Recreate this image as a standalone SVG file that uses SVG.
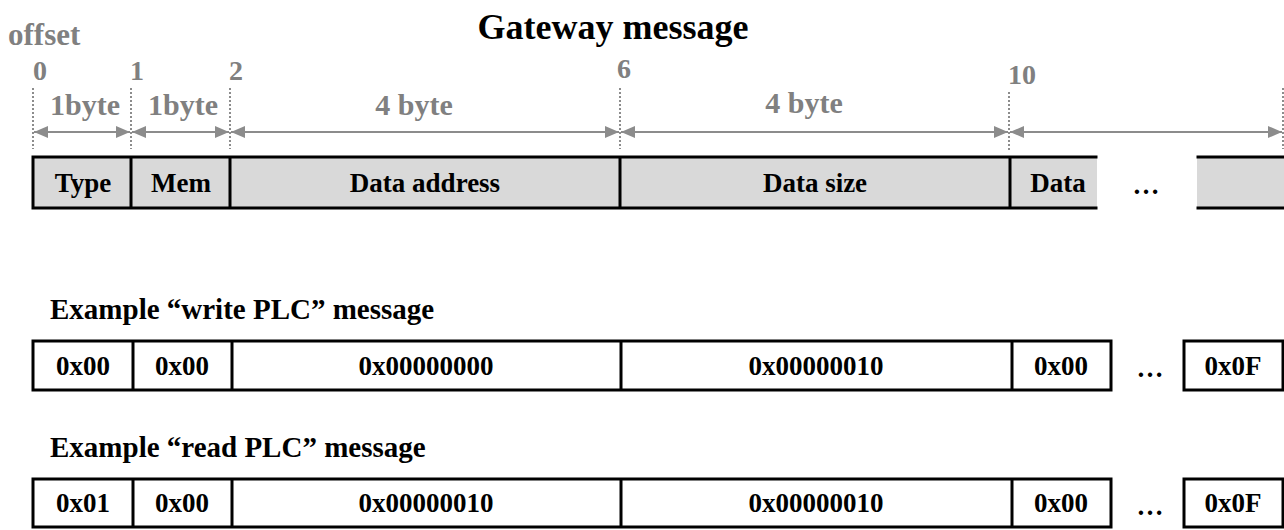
<svg xmlns="http://www.w3.org/2000/svg" width="1284" height="530" viewBox="0 0 1284 530">
  <style>
    .gray { font-family: "Liberation Serif", "Times New Roman", serif; font-weight: bold; fill: #808080; font-size: 28px; }
    .big { font-size: 31px; }
    .mid { font-size: 30px; }
    .title { font-family: "Liberation Serif", "Times New Roman", serif; font-weight: bold; fill: #000; font-size: 36px; }
    .sub { font-family: "Liberation Serif", "Times New Roman", serif; font-weight: bold; fill: #000; font-size: 29px; }
    .lbl { font-family: "Liberation Serif", "Times New Roman", serif; font-weight: bold; fill: #000; font-size: 27px; text-anchor: middle; }
    .guide { stroke: #8c8c8c; stroke-width: 2; stroke-dasharray: 2 2; fill: none; }
    .dim { stroke: #8c8c8c; stroke-width: 2; fill: none; marker-start: url(#ah); marker-end: url(#ah); }
    .cellG { fill: #d9d9d9; stroke: none; }
    .cellW { fill: #ffffff; stroke: none; }
    .edge { stroke: #000; stroke-width: 3; fill: none; stroke-linecap: square; }
  </style>
  <defs>
    <marker id="ah" viewBox="0 0 14 12" refX="14" refY="6" markerWidth="14" markerHeight="12" markerUnits="userSpaceOnUse" orient="auto-start-reverse">
      <path d="M0,0 L14,6 L0,12 z" fill="#8c8c8c"/>
    </marker>
  </defs>
  <rect width="1284" height="530" fill="#ffffff"/>

  <text class="title" x="613" y="39" text-anchor="middle">Gateway message</text>
  <text class="gray big" x="8" y="45">offset</text>

  <g id="offsets">
    <text class="gray" x="33" y="80">0</text>
    <text class="gray" x="130" y="80">1</text>
    <text class="gray" x="229" y="80">2</text>
    <text class="gray" x="617" y="78">6</text>
    <text class="gray" x="1008" y="84">10</text>
  </g>

  <g id="guides">
    <line class="guide" x1="33" y1="88" x2="33" y2="149"/>
    <line class="guide" x1="131" y1="88" x2="131" y2="149"/>
    <line class="guide" x1="230" y1="88" x2="230" y2="149"/>
    <line class="guide" x1="620" y1="88" x2="620" y2="149"/>
    <line class="guide" x1="1009" y1="92" x2="1009" y2="152"/>
    <line class="guide" x1="1283" y1="88" x2="1283" y2="149"/>
  </g>

  <g id="connectors">
    <line class="dim" x1="34" y1="132" x2="130" y2="132"/>
    <line class="dim" x1="132" y1="132" x2="229" y2="132"/>
    <line class="dim" x1="231" y1="132" x2="619" y2="132"/>
    <line class="dim" x1="621" y1="132" x2="1008" y2="132"/>
    <line class="dim" x1="1010" y1="132" x2="1282" y2="132"/>
  </g>

  <g id="sizes">
    <text class="gray mid" x="85" y="115" text-anchor="middle">1byte</text>
    <text class="gray mid" x="183" y="115" text-anchor="middle">1byte</text>
    <text class="gray mid" x="414" y="115" text-anchor="middle">4 byte</text>
    <text class="gray mid" x="804" y="113" text-anchor="middle">4 byte</text>
  </g>

  <!-- Header row -->
  <g id="header-row">
    <rect class="cellG" x="33" y="157" width="1064" height="51"/>
    <rect class="cellG" x="1197" y="157" width="87" height="51"/>
    <path class="edge" d="M33,157 H1096 M33,208 H1096 M33,157 V208 M131,157 V208 M230,157 V208 M620,157 V208 M1010,157 V208"/>
    <path class="edge" d="M1198,157 H1290 M1198,208 H1290" stroke-linecap="butt"/>
    <text class="lbl" x="83" y="192">Type</text>
    <text class="lbl" x="181" y="192">Mem</text>
    <text class="lbl" x="425" y="192">Data address</text>
    <text class="lbl" x="815" y="192">Data size</text>
    <text class="lbl" x="1058" y="192">Data</text>
    <text class="lbl" x="1146" y="194">…</text>
  </g>

  <!-- Write example -->
  <text class="sub" x="50" y="319">Example “write PLC” message</text>
  <g id="write-row">
    <rect class="cellW" x="33" y="341" width="1078" height="49"/>
    <path class="edge" d="M33,341 H1111 V390 H33 Z M133,341 V390 M232,341 V390 M621,341 V390 M1012,341 V390"/>
    <rect class="edge" x="1184" y="341" width="99" height="49" fill="#fff"/>
    <text class="lbl" x="83" y="375">0x00</text>
    <text class="lbl" x="182" y="375">0x00</text>
    <text class="lbl" x="426" y="375">0x00000000</text>
    <text class="lbl" x="816" y="375">0x00000010</text>
    <text class="lbl" x="1061" y="375">0x00</text>
    <text class="lbl" x="1150" y="377">…</text>
    <text class="lbl" x="1233" y="375">0x0F</text>
  </g>

  <!-- Read example -->
  <text class="sub" x="50" y="457">Example “read PLC” message</text>
  <g id="read-row">
    <rect class="cellW" x="33" y="479" width="1078" height="49"/>
    <path class="edge" d="M33,479 H1111 V527 H33 Z M133,479 V527 M232,479 V527 M621,479 V527 M1012,479 V527"/>
    <rect class="edge" x="1184" y="479" width="99" height="48" fill="#fff"/>
    <text class="lbl" x="83" y="512">0x01</text>
    <text class="lbl" x="182" y="512">0x00</text>
    <text class="lbl" x="426" y="512">0x00000010</text>
    <text class="lbl" x="816" y="512">0x00000010</text>
    <text class="lbl" x="1061" y="512">0x00</text>
    <text class="lbl" x="1150" y="515">…</text>
    <text class="lbl" x="1233" y="512">0x0F</text>
  </g>
</svg>
